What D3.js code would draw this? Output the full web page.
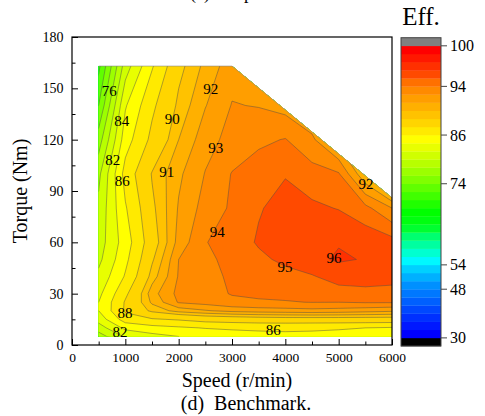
<!DOCTYPE html>
<html><head><meta charset="utf-8">
<script src="https://cdn.jsdelivr.net/npm/d3@7"></script>
<style>
body{margin:0;background:#fff}
svg{display:block}
text{font-family:"Liberation Serif","Times New Roman",serif;fill:#000}
</style>
</head><body>
<svg id="c" width="485" height="416"></svg>
<script>
// ---- data ----
const speeds  = [500,1000,1500,2000,2500,3000,3500,4000,4500,5000,5500,6000];
const torques = [5,10,15,20,25,30,40,50,60,80,100,120,140,163];
// efficiency rows, one per torque (ascending), columns follow speeds
const effT5   = [79,82.3,83.3,84,84.5,85,85.3,85.5,85.5,85.3,85,84.5];
const effT10  = [81,84.5,85.3,85.7,86.1,86.3,86.4,86.4,86.3,86.2,86,85.8];
const effT15  = [82.8,87,87.8,88.2,88.8,89,89.2,89.3,89.3,89.3,89.3,89.3];
const effT20  = [84,88.3,90.3,91.4,91.9,92.3,92.5,92.6,92.7,92.6,92.4,92.2];
const effT25  = [84,88.2,91.2,93.1,93.4,93.8,93.9,93.95,94.02,94.0,94.1,94.1];
const effT30  = [83.5,87.6,91.6,93.3,93.7,94.05,94.15,94.2,94.3,94.5,94.6,94.6];
const effT40  = [82.5,86.2,90.5,93.1,93.7,94.15,94.4,94.7,94.9,95.5,95.6,95.4];
const effT50  = [81.5,85.5,89.8,93.0,93.7,94.4,94.8,95.2,95.8,96.1,95.95,95.6];
const effT60  = [81,85,89.2,92.4,93.95,94.5,95.1,95.4,95.8,95.95,95.7,95.4];
const effT80  = [80.5,85.8,89.7,92.1,93.4,94.15,94.93,95.3,95.2,94.95,94.3,93];
const effT100 = [79.5,86.8,90.1,91.8,93.05,94.05,94.5,94.95,94.4,94.1,91.1,88];
const effT120 = [77,85.1,88.5,91,92.6,93.35,93.8,94.05,93.2,91.5,89,87];
const effT140 = [74,83.8,87.6,90.3,91.95,93.05,92.95,92.6,92,90,88,86];
const effT163 = [71.5,81,85.8,89.6,91.3,92.6,92.6,92.2,91.5,90,88,86];
const effRows = [effT5,effT10,effT15,effT20,effT25,effT30,effT40,effT50,effT60,effT80,effT100,effT120,effT140,effT163];

// operating envelope (speed, torque)
const envSpeed  = [500,500,3000,6000,6000];
const envTorque = [5,163,163,86,5];

// contour levels
const levels = [30,33,36,39,42,45,48,50,52,54,56,58,60,62,64,66,68,70,72,74,76,78,80,82,84,86,88,90,91,92,93,94,95,96,97,98,100];
const bandColors = ["#0000ff","#0018ff","#0030ff","#0048ff","#0060ff","#0078ff","#0090ff","#00b0ff","#00d0ff","#00f8ff",
  "#00ffd0","#00ffa0","#00ff70","#00ff30","#00ff10","#00ff00","#20ff00","#40ff00","#60ff00","#80ff00",
  "#9cff00","#b8ff00","#d0ff00","#e8ff00","#ffff00","#ffea00","#ffd500","#ffc200","#ffb000","#ff9e00",
  "#ff8a00","#ff7000","#ff4a00","#ff3000","#ff1800","#ff0000"];
const overColor = "#808080", underColor = "#000000";

// ticks
const xTicks = [0,1000,2000,3000,4000,5000,6000];
const xMinor = [500,1500,2500,3500,4500,5500];
const yTicks = [0,30,60,90,120,150,180];
const yMinor = [15,45,75,105,135,165];
const barTicks = [30,48,54,74,86,94,100];

// contour labels
const labText  = ["76","84","90","92","93","82","91","86","92","94","95","96","88","82","86"];
const labSpeed = [700,931,1881,2600,2694,762,1775,944,5512,2725,3994,4913,994,900,3775];
const labTorq  = [148.6,131,132.5,149.6,115.5,108,101,96,94.5,66.2,45.8,51,18.9,7.8,8.8];

// ---- drawing ----
const svg = d3.select("#c");
const x = d3.scaleLinear().domain([0,6000]).range([72,392]);
const y = d3.scaleLinear().domain([0,180]).range([345,37]);

const n = speeds.length, m = torques.length;
const values = effRows.flat();
const gx = d3.scaleLinear().domain(speeds.map((d,i)=>i+0.5)).range(speeds);
const gy = d3.scaleLinear().domain(torques.map((d,i)=>i+0.5)).range(torques);
const proj = d3.geoTransform({point(px,py){ this.stream.point(x(gx(px)), y(gy(py))); }});
const path = d3.geoPath(proj);
const contours = d3.contours().size([n,m]).thresholds(levels)(values);

const env = envSpeed.map((s,i)=>[s,envTorque[i]]);
const envLine = d3.line().x(d=>x(d[0])).y(d=>y(d[1]));
svg.append("defs").append("clipPath").attr("id","clip")
  .append("path").attr("d", envLine(env)+"Z");

const g = svg.append("g").attr("clip-path","url(#clip)");
g.selectAll("path.fill").data(contours).join("path")
  .attr("class","fill")
  .attr("d", path)
  .attr("fill",(d,i)=> i < bandColors.length ? bandColors[i] : overColor)
  .attr("stroke","none");
g.selectAll("path.line").data(contours).join("path")
  .attr("class","line")
  .attr("d", path)
  .attr("fill","none")
  .attr("stroke","#4a4a4a")
  .attr("stroke-opacity",0.75)
  .attr("stroke-width",0.6);

// envelope top/slope edge
svg.append("path").attr("d", envLine(env.slice(1,4)))
  .attr("fill","none").attr("stroke","#8a8a8a").attr("stroke-width",0.6);

// contour labels
svg.append("g").selectAll("text").data(labText).join("text")
  .attr("x",(d,i)=>x(labSpeed[i])).attr("y",(d,i)=>y(labTorq[i]))
  .attr("dy","0.35em").attr("text-anchor","middle")
  .style("font-size","15px").text(d=>d);

// frame
svg.append("rect").attr("x",72).attr("y",37).attr("width",320).attr("height",308)
  .attr("fill","none").attr("stroke","#000").attr("stroke-width",1.2);

function styleAxis(sel, fs){
  sel.select(".domain").remove();
  sel.selectAll(".tick line").attr("stroke","#000").attr("stroke-width",1);
  sel.selectAll("text").style("font-family",'"Liberation Serif","Times New Roman",serif').style("font-size",fs).attr("fill","#000");
}
svg.append("g").attr("transform","translate(0,345)")
  .call(d3.axisBottom(x).tickValues(xTicks).tickSize(-6).tickPadding(7.5).tickFormat(d3.format("d")))
  .call(s=>styleAxis(s,"13.5px"));
svg.append("g").attr("transform","translate(0,345)")
  .call(d3.axisBottom(x).tickValues(xMinor).tickSize(-3.5).tickFormat(""))
  .call(s=>styleAxis(s,"13.5px"));
svg.append("g").attr("transform","translate(72,0)")
  .call(d3.axisLeft(y).tickValues(yTicks).tickSize(-6).tickPadding(8.5).tickFormat(d3.format("d")))
  .call(s=>styleAxis(s,"14px"));
svg.append("g").attr("transform","translate(72,0)")
  .call(d3.axisLeft(y).tickValues(yMinor).tickSize(-3.5).tickFormat(""))
  .call(s=>styleAxis(s,"14px"));

// axis titles & captions
svg.append("text").attr("x",237).attr("y",387).attr("text-anchor","middle")
  .style("font-size","20px").text("Speed (r/min)");
svg.append("text").attr("transform","translate(27,191) rotate(-90)").attr("text-anchor","middle")
  .style("font-size","20px").text("Torque (Nm)");
svg.append("text").attr("x",246).attr("y",410).attr("text-anchor","middle")
  .style("font-size","20px").style("white-space","pre").text("(d)  Benchmark.");
svg.append("text").attr("x",190).attr("y",-1)
  .style("font-size","18px").style("white-space","pre").text("(c)  Proposed.");

// colour bar
const barColors = [underColor, ...bandColors, overColor];
const barY = d3.scaleLinear().domain([0, barColors.length]).range([346, 37.7]);
const bar = svg.append("g");
bar.selectAll("rect").data(barColors).join("rect")
  .attr("x",401).attr("width",40)
  .attr("y",(d,i)=>barY(i+1)).attr("height",(d,i)=>barY(i)-barY(i+1)+0.3)
  .attr("fill",d=>d);
bar.append("rect").attr("x",401).attr("y",37.7).attr("width",40).attr("height",346-37.7)
  .attr("fill","none").attr("stroke","#444").attr("stroke-width",1);
const bt = bar.selectAll("g.bt").data(barTicks).join("g").attr("class","bt")
  .attr("transform",d=>`translate(0,${barY(levels.indexOf(d)+1)})`);
bt.append("line").attr("x1",441).attr("x2",447).attr("stroke","#444").attr("stroke-width",1);
bt.append("text").attr("x",450).attr("dy","0.35em").style("font-size","16px").text(d=>d);
svg.append("text").attr("x",421).attr("y",25).attr("text-anchor","middle")
  .style("font-size","25px").text("Eff.");
</script>
</body></html>
